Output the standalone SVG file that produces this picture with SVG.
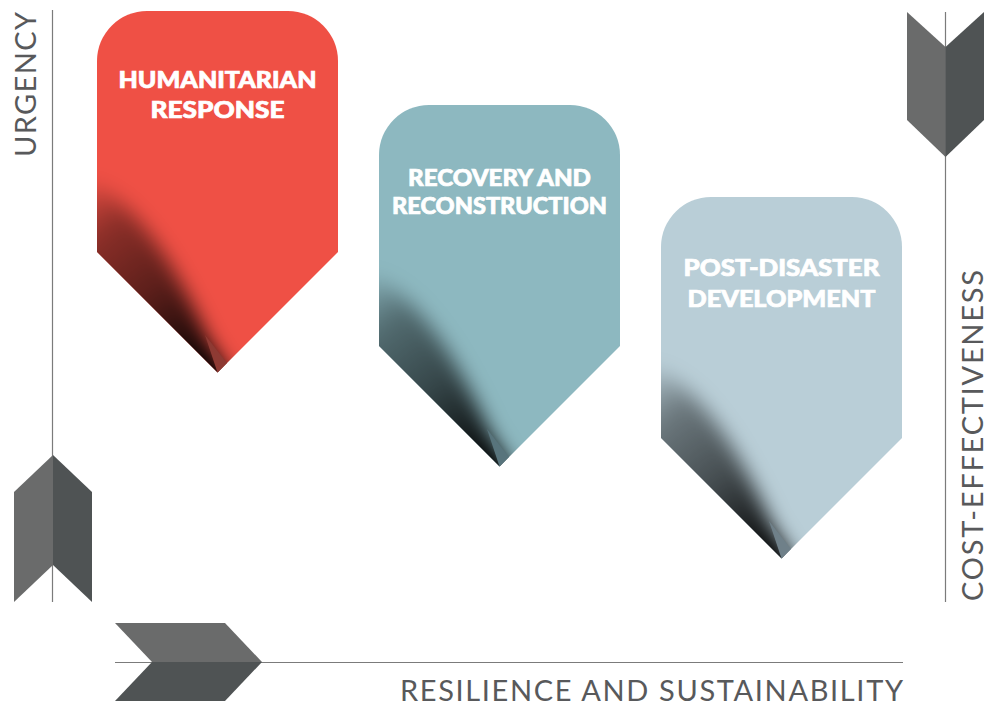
<svg xmlns="http://www.w3.org/2000/svg" width="989" height="705" viewBox="0 0 989 705">
  <style>
    .pin { fill: currentColor; }
    .curl { fill: url(#curlShade); filter: url(#soft); }
    .lbl { font-family: Lato, "Open Sans", "Liberation Sans", sans-serif; font-weight: 900; font-size: 22.5px; fill: #ffffff; stroke: #ffffff; stroke-width: 0.7; text-anchor: middle; }
    .axis-lbl { font-family: Lato, "Open Sans", "Liberation Sans", sans-serif; font-weight: 400; font-size: 29px; fill: #58595b; }
    .axis { stroke: #7b7b7b; stroke-width: 1.2; fill: none; }
    .chev-a { fill: #6a6b6b; }
    .chev-b { fill: #4f5354; }
    #n1 { color: #ef5045; }
    #n2 { color: #8db8c0; }
    #n3 { color: #b9ced7; }
    #n1 .strip { fill: #8e3a33; }
    #n2 .strip { fill: #58747c; }
    #n3 .strip { fill: #6f8089; }
  </style>
  <defs>
    <!-- rounded-top pin with a 45 degree point, 241 wide -->
    <path id="pinShape" d="M0,50 A50,50 0 0 1 50,0 H191 A50,50 0 0 1 241,50 V241 L120.5,361.5 L0,241 Z"/>
    <clipPath id="pinClip"><use href="#pinShape"/></clipPath>
    <!-- curled-corner shadow, darkest at the point -->
    <radialGradient id="curlShade" gradientUnits="userSpaceOnUse" cx="120.5" cy="361" r="230">
      <stop offset="0" stop-color="#000" stop-opacity="1"/>
      <stop offset="0.14" stop-color="#000" stop-opacity="0.9"/>
      <stop offset="0.45" stop-color="#000" stop-opacity="0.62"/>
      <stop offset="0.78" stop-color="#000" stop-opacity="0.42"/>
      <stop offset="1" stop-color="#000" stop-opacity="0.05"/>
    </radialGradient>
    <filter id="soft" x="-50%" y="-50%" width="200%" height="200%">
      <feGaussianBlur stdDeviation="10"/>
    </filter>
    <path id="curlPath" d="M-40,160 L0,174 C28,188 58,226 78,262 S104,314 112,330 L130,358 L150,400 L-40,400 Z"/>
    <polygon id="curlStrip" points="120.5,361.5 130,352 108,324"/>
  </defs>

  <!-- axes: lines -->
  <g id="connectors">
    <line class="axis" x1="52.5" y1="10" x2="52.5" y2="602"/>
    <line class="axis" x1="945.5" y1="12" x2="945.5" y2="602"/>
    <line class="axis" x1="115" y1="662.5" x2="903" y2="662.5"/>
  </g>

  <!-- axis chevrons -->
  <g id="chevron-urgency">
    <polygon class="chev-a" points="14,492 53,455 53,565 14,602"/>
    <polygon class="chev-b" points="53,455 92,492 92,602 53,565"/>
  </g>
  <g id="chevron-cost">
    <polygon class="chev-a" points="907,12 945.5,47 945.5,157 907,120"/>
    <polygon class="chev-b" points="945.5,47 984,12 984,120 945.5,157"/>
  </g>
  <g id="chevron-resilience">
    <polygon class="chev-a" points="115,623 225,623 262,662 152,662"/>
    <polygon class="chev-b" points="152,662 262,662 225,701 115,701"/>
  </g>

  <!-- axis labels -->
  <text class="axis-lbl" transform="translate(36,157) rotate(-90)" textLength="145" lengthAdjust="spacing">URGENCY</text>
  <text class="axis-lbl" transform="translate(983,601) rotate(-90)" textLength="331" lengthAdjust="spacing">COST-EFFECTIVENESS</text>
  <text class="axis-lbl" x="400" y="700.5" textLength="503" lengthAdjust="spacing">RESILIENCE AND SUSTAINABILITY</text>

  <!-- phase pins -->
  <g id="n1" transform="translate(97,11)">
    <use href="#pinShape" class="pin"/>
    <g clip-path="url(#pinClip)"><use href="#curlPath" class="curl"/></g>
    <use href="#curlStrip" class="strip"/>
    <text class="lbl" x="120.5" y="77.3" textLength="198" lengthAdjust="spacingAndGlyphs">HUMANITARIAN</text>
    <text class="lbl" x="120.5" y="107.3" textLength="134" lengthAdjust="spacingAndGlyphs">RESPONSE</text>
  </g>
  <g id="n2" transform="translate(379,105)">
    <use href="#pinShape" class="pin"/>
    <g clip-path="url(#pinClip)"><use href="#curlPath" class="curl"/></g>
    <use href="#curlStrip" class="strip"/>
    <text class="lbl" x="120.5" y="81" textLength="183" lengthAdjust="spacingAndGlyphs">RECOVERY AND</text>
    <text class="lbl" x="120.5" y="108.5" textLength="215" lengthAdjust="spacingAndGlyphs">RECONSTRUCTION</text>
  </g>
  <g id="n3" transform="translate(661,197)">
    <use href="#pinShape" class="pin"/>
    <g clip-path="url(#pinClip)"><use href="#curlPath" class="curl"/></g>
    <use href="#curlStrip" class="strip"/>
    <text class="lbl" x="120.5" y="78.5" textLength="196" lengthAdjust="spacingAndGlyphs">POST-DISASTER</text>
    <text class="lbl" x="120.5" y="109.5" textLength="188" lengthAdjust="spacingAndGlyphs">DEVELOPMENT</text>
  </g>
</svg>
